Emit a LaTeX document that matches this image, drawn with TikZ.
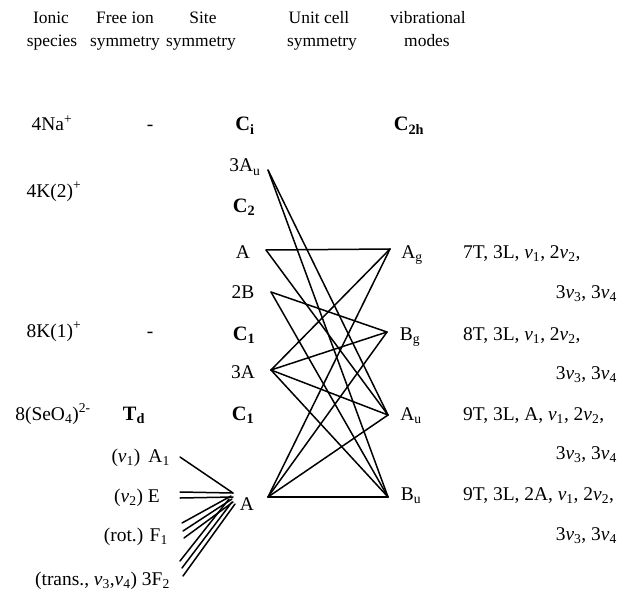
\documentclass[tikz,border=0pt]{standalone}
\usepackage{fontspec}
\setmainfont{Liberation Serif}
\tikzset{
  lbl/.style={anchor=base, inner sep=0pt, font=\fontsize{19.5}{23}\selectfont},
  head/.style={lbl, font=\fontsize{17.5}{21}\selectfont},
  sym/.style={lbl, font=\fontsize{20.5}{23}\selectfont\bfseries},
  corr/.style={line width=1.5bp, line cap=round},
}
\newcommand{\vb}[1]{\textit{ν}\textsubscript{#1}}

\begin{document}
\begin{tikzpicture}[x=1bp, y=-1bp]
  \useasboundingbox (0,0) rectangle (632,593);

  \node[head] (hIon)   at (51,24)  {Ionic};
  \node[head] (hIonb)  at (52,47)  {species};
  \node[head] (hFree)  at (125,24) {Free ion};
  \node[head] (hFreeb) at (125,47) {symmetry};
  \node[head] (hSite)  at (203,24) {Site};
  \node[head] (hSiteb) at (201,47) {symmetry};
  \node[head] (hCell)  at (319,24) {Unit cell};
  \node[head] (hCellb) at (322,47) {symmetry};
  \node[head] (hVib)   at (428,24) {vibrational};
  \node[head] (hVibb)  at (427,47) {modes};

  \node[lbl] (na)   at (52,131)  {4Na\textsuperscript{+}};
  \node[lbl] (naF)  at (150,131) {-};
  \node[sym] (ci)   at (245,131) {C\textsubscript{i}};
  \node[sym] (c2h)  at (409,131) {C\textsubscript{2h}};
  \node[lbl] (au3)  at (245,172) {3A\textsubscript{u}};
  \node[lbl] (kb)   at (54,197)  {4K(2)\textsuperscript{+}};
  \node[sym] (c2)   at (244,212) {C\textsubscript{2}};
  \node[lbl] (a)    at (243,258) {A};
  \node[lbl] (b2)   at (243,298) {2B};
  \node[lbl] (ka)   at (54,337)  {8K(1)\textsuperscript{+}};
  \node[lbl] (kaF)  at (150,337) {-};
  \node[sym] (c1a)  at (244,340) {C\textsubscript{1}};
  \node[lbl] (a3)   at (243,378) {3A};
  \node[lbl] (se)   at (53,420)  {8(SeO\textsubscript{4})\textsuperscript{2-}};
  \node[sym] (td)   at (134,420) {T\textsubscript{d}};
  \node[sym] (c1b)  at (243,420) {C\textsubscript{1}};
  \node[lbl] (abot) at (247,510) {A};

  \node[lbl, anchor=base east] (fA1) at (170,462) {(\vb{1})\, A\textsubscript{1}};
  \node[lbl, anchor=base east] (fE)  at (160,502) {(\vb{2}) E};
  \node[lbl, anchor=base east] (fF1) at (168,541) {(rot.) F\textsubscript{1}};
  \node[lbl, anchor=base east] (fF2) at (170,585) {(trans., \vb{3},\vb{4}) 3F\textsubscript{2}};

  \node[lbl] (ag) at (412,258) {A\textsubscript{g}};
  \node[lbl] (bg) at (410,340) {B\textsubscript{g}};
  \node[lbl] (au) at (411,420) {A\textsubscript{u}};
  \node[lbl] (bu) at (411,500) {B\textsubscript{u}};

  \node[lbl, anchor=base west] (mAg)  at (463,258) {7T, 3L, \vb{1}, 2\vb{2},};
  \node[lbl, anchor=base east] (mAgb) at (617,298) {3\vb{3}, 3\vb{4}};
  \node[lbl, anchor=base west] (mBg)  at (463,340) {8T, 3L, \vb{1}, 2\vb{2},};
  \node[lbl, anchor=base east] (mBgb) at (617,379) {3\vb{3}, 3\vb{4}};
  \node[lbl, anchor=base west] (mAu)  at (463,420) {9T, 3L, A, \vb{1}, 2\vb{2},};
  \node[lbl, anchor=base east] (mAub) at (617,459) {3\vb{3}, 3\vb{4}};
  \node[lbl, anchor=base west] (mBu)  at (463,500) {9T, 3L, 2A, \vb{1}, 2\vb{2},};
  \node[lbl, anchor=base east] (mBub) at (617,540) {3\vb{3}, 3\vb{4}};

  \coordinate (pAu3) at (268,170);
  \coordinate (pA)   at (266,250);
  \coordinate (pB2)  at (271,292);
  \coordinate (pA3)  at (271,370);
  \coordinate (pAb)  at (268,497);
  \coordinate (pAg)  at (390,249);
  \coordinate (pBg)  at (387,332);
  \coordinate (pAu)  at (388,415);
  \coordinate (pBu)  at (388,497);

  \draw[corr] (pAu3) -- (pAu);
  \draw[corr] (pAu3) -- (pBu);
  \draw[corr] (pA)   -- (pAg);
  \draw[corr] (pA)   -- (pAu);
  \draw[corr] (pB2)  -- (pBg);
  \draw[corr] (pB2)  -- (pBu);
  \draw[corr] (pA3)  -- (pAg);
  \draw[corr] (pA3)  -- (pBg);
  \draw[corr] (pA3)  -- (pAu);
  \draw[corr] (pA3)  -- (pBu);
  \draw[corr] (pAb)  -- (pAg);
  \draw[corr] (pAb)  -- (pBg);
  \draw[corr] (pAb)  -- (pAu);
  \draw[corr] (pAb)  -- (pBu);

  \coordinate (qA1)  at (180,457);
  \coordinate (qE1)  at (180,492);
  \coordinate (qE2)  at (180,498);
  \coordinate (qF1a) at (182,523);
  \coordinate (qF1b) at (183,531);
  \coordinate (qF1c) at (184,538);
  \coordinate (qF2a) at (180,561);
  \coordinate (qF2b) at (182,568);
  \coordinate (qF2c) at (183,576);
  \coordinate (vA)   at (233,493);

  \draw[corr] (qA1)  -- (vA);
  \draw[corr] (qE1)  -- (vA);
  \draw[corr] (qE2)  -- ([yshift=-4bp]vA);
  \draw[corr] (qF1a) -- ([xshift=-2bp, yshift=-3bp]vA);
  \draw[corr] (qF1b) -- ([xshift=-1bp, yshift=-6bp]vA);
  \draw[corr] (qF1c) -- ([yshift=-9bp]vA);
  \draw[corr] (qF2a) -- ([xshift=-4bp, yshift=-6bp]vA);
  \draw[corr] (qF2b) -- ([xshift=-1bp, yshift=-9bp]vA);
  \draw[corr] (qF2c) -- ([xshift=2bp, yshift=-11bp]vA);
\end{tikzpicture}
\end{document}
